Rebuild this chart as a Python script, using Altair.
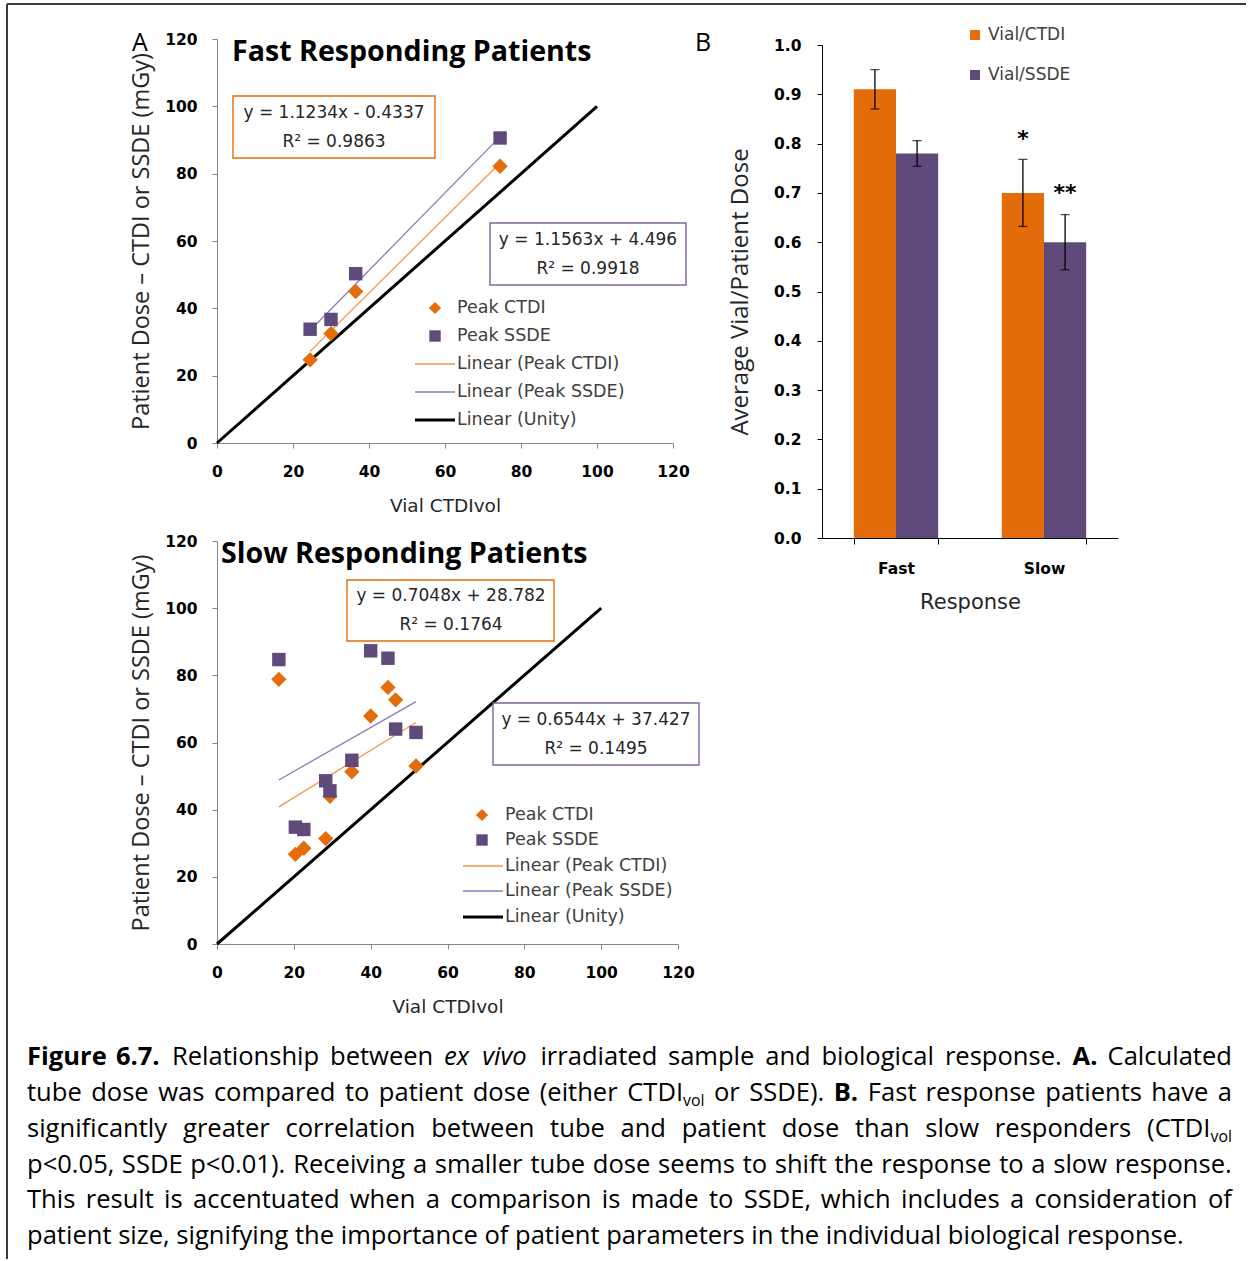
import altair as alt
import pandas as pd

# ---------------- values ----------------
fast_vial = [24.5, 30.0, 36.5, 74.5]
fast_ctdi = [24.7, 32.5, 45.0, 82.2]
fast_ssde = [33.8, 36.7, 50.3, 90.6]

slow_vial = [16.1, 20.4, 22.6, 28.3, 29.4, 35.1, 40.0, 44.5, 46.5, 51.8]
slow_ctdi = [78.8, 26.7, 28.5, 31.4, 44.0, 51.3, 67.9, 76.4, 72.7, 53.0]
slow_ssde = [84.7, 34.8, 34.1, 48.6, 45.6, 54.7, 87.3, 85.1, 64.0, 63.0]

unity_vial = [0, 100]
unity_dose = [0, 100]
dose_ticks = [0, 20, 40, 60, 80, 100, 120]

bar_response = ["Fast", "Fast", "Slow", "Slow"]
bar_ratio = ["Vial/CTDI", "Vial/SSDE", "Vial/CTDI", "Vial/SSDE"]
bar_mean = [0.91, 0.78, 0.70, 0.60]
bar_err = [0.040, 0.026, 0.068, 0.056]
star_response = ["Slow", "Slow"]
star_ratio = ["Vial/CTDI", "Vial/SSDE"]
star_text = ["*", "**"]
star_level = [0.81, 0.70]
ratio_ticks = [0.0, 0.1, 0.2, 0.3, 0.4, 0.5, 0.6, 0.7, 0.8, 0.9, 1.0]

fast_ctdi_eq = ["y = 1.1234x - 0.4337", "R² = 0.9863"]
fast_ssde_eq = ["y = 1.1563x + 4.496", "R² = 0.9918"]
slow_ctdi_eq = ["y = 0.7048x + 28.782", "R² = 0.1764"]
slow_ssde_eq = ["y = 0.6544x + 37.427", "R² = 0.1495"]

legend_labels = ["Peak CTDI", "Peak SSDE", "Linear (Peak CTDI)", "Linear (Peak SSDE)", "Linear (Unity)"]
bar_legend = ["Vial/CTDI", "Vial/SSDE"]

caption_justified = [
    "**Figure **6.7. Relationship between __ex __vivo irradiated sample and biological response. **A. Calculated",
    "tube dose was compared to patient dose (either CTDI~vol or SSDE). **B. Fast response patients have a",
    "significantly greater correlation between tube and patient dose than slow responders (CTDI~vol",
    "p<0.05, SSDE p<0.01). Receiving a smaller tube dose seems to shift the response to a slow response.",
    "This result is accentuated when a comparison is made to SSDE, which includes a consideration of",
]
caption_last = "patient size, signifying the importance of patient parameters in the individual biological response."

# ---------------- styles ----------------
ORANGE = "#E46C0A"
PURPLE = "#604A7B"
ORANGE_LINE = "#F79646"
PURPLE_LINE = "#8C7BB5"
TXT = "#262626"
ONE = pd.DataFrame({"k": [0]})


def txt(s, x, y, size, font="DejaVu Sans", weight="normal", align="left",
        color=TXT, baseline="middle"):
    return alt.Chart(ONE).mark_text(
        align=align, baseline=baseline, fontSize=size, font=font,
        fontWeight=weight, color=color
    ).encode(x=alt.value(x), y=alt.value(y), text=alt.value(s))


def rule(x0, x1, y0, y1, color, width):
    enc = dict(x=alt.value(x0), y=alt.value(y0))
    if x1 != x0:
        enc["x2"] = alt.value(x1)
    if y1 != y0:
        enc["y2"] = alt.value(y1)
    return alt.Chart(ONE).mark_rule(color=color, strokeWidth=width).encode(**enc)


def sym(shape, color, size, x, y):
    return alt.Chart(ONE).mark_point(shape=shape, filled=True, size=size,
                                     color=color, opacity=1).encode(
        x=alt.value(x), y=alt.value(y))


def eq_box(x0, x1, y0, y1, color, lines, cx, ys):
    items = [alt.Chart(ONE).mark_rect(fillOpacity=0, stroke=color, strokeWidth=1.4).encode(
        x=alt.value(x0), x2=alt.value(x1), y=alt.value(y0), y2=alt.value(y1))]
    for s, y in zip(lines, ys):
        items.append(txt(s, cx, y, 17, align="center"))
    return items


def legend(x_sym, xl0, xl1, x_txt, ys):
    items = [
        sym("diamond", ORANGE, 150, x_sym, ys[0]),
        sym("square", PURPLE, 130, x_sym, ys[1]),
        rule(xl0, xl1, ys[2], ys[2], ORANGE_LINE, 1.3),
        rule(xl0, xl1, ys[3], ys[3], PURPLE_LINE, 1.3),
        rule(xl0, xl1, ys[4], ys[4], "black", 3),
    ]
    for lab, y in zip(legend_labels, ys):
        items.append(txt(lab, x_txt, y, 17.5, color="#404040"))
    return items


AX = dict(grid=False, tickSize=5, labelFont="DejaVu Sans", labelFontWeight="bold",
          labelFontSize=15.5, labelColor="black", labelFlush=False, labelOverlap=False,
          titleColor=TXT, titleFontWeight="normal")


def scatter_layers(vial, ctdi, ssde):
    n = len(vial)
    df = pd.DataFrame({"vial": vial + vial, "dose": ctdi + ssde,
                       "series": ["CTDI"] * n + ["SSDE"] * n})
    X = alt.X("vial:Q", scale=alt.Scale(domain=[0, 120], nice=False),
              axis=alt.Axis(values=dose_ticks, title="Vial CTDIvol", labelPadding=16,
                            titlePadding=17, titleFont="DejaVu Sans", titleFontSize=18.5,
                            domainColor="#868686", tickColor="#868686", **AX))
    Y = alt.Y("dose:Q", scale=alt.Scale(domain=[0, 120], nice=False),
              axis=alt.Axis(values=dose_ticks, title="Patient Dose – CTDI or SSDE (mGy)",
                            labelPadding=15, titlePadding=11, titleFont="Open Sans",
                            titleFontSize=23.5, domainColor="#868686",
                            tickColor="#868686", **AX))
    unity = alt.Chart(pd.DataFrame({"vial": unity_vial, "dose": unity_dose})).mark_line(
        color="black", strokeWidth=3).encode(x=X, y=Y)
    layers = [unity]
    for s, col in [("CTDI", ORANGE_LINE), ("SSDE", PURPLE_LINE)]:
        layers.append(alt.Chart(df).transform_filter(alt.datum.series == s)
                      .transform_regression("vial", "dose")
                      .mark_line(color=col, strokeWidth=1.3).encode(x=X, y=Y))
    layers.append(alt.Chart(df).transform_filter(alt.datum.series == "CTDI")
                  .mark_point(shape="diamond", filled=True, size=235, color=ORANGE, opacity=1)
                  .encode(x=X, y=Y))
    layers.append(alt.Chart(df).transform_filter(alt.datum.series == "SSDE")
                  .mark_point(shape="square", filled=True, size=180, color=PURPLE, opacity=1)
                  .encode(x=X, y=Y))
    return layers


# ---------------- panel A (fast) ----------------
A_items = scatter_layers(fast_vial, fast_ctdi, fast_ssde)
A_items += [txt("Fast Responding Patients", 15, 13, 28.6, font="Open Sans", weight="bold", color="black"),
            txt("A", -77, 4, 25, font="Open Sans", align="center", color="black")]
A_items += eq_box(16, 218, 57, 119, ORANGE, fast_ctdi_eq, 117, [74, 103])
A_items += eq_box(273, 469, 184, 246, "#8064A2", fast_ssde_eq, 371, [201, 230])
A_items += legend(218, 198, 238, 240, [269, 297, 325, 353, 381])
# figure frame (left and top edges)
A_items += [rule(-210, -210, -35, 1220, "#3a3a3a", 2), rule(-210, 1029, -35, -35, "#3a3a3a", 2)]
panelA = alt.layer(*A_items).properties(width=456, height=404)

# ---------------- panel B (bars) ----------------
bar_df = pd.DataFrame({"response": bar_response, "ratio": bar_ratio,
                       "mean": bar_mean, "err": bar_err})
star_df = pd.DataFrame({"response": star_response, "ratio": star_ratio,
                        "level": star_level, "label": star_text})
XB = alt.X("response:N", scale=alt.Scale(paddingInner=0.43, paddingOuter=0.215),
           axis=alt.Axis(title="Response", labelAngle=0, tickBand="extent", grid=False,
                         domainColor="black", tickColor="black", tickSize=6,
                         labelFont="DejaVu Sans", labelFontWeight="bold", labelFontSize=15.5,
                         labelColor="black", labelPadding=17, titleFont="DejaVu Sans",
                         titleFontSize=21, titleFontWeight="normal", titleColor=TXT,
                         titlePadding=15))
XO = alt.XOffset("ratio:N", scale=alt.Scale(domain=bar_legend))
yscale = alt.Scale(domain=[0, 1], range=[499, 6], nice=False)
yaxis = alt.Axis(values=ratio_ticks, format=".1f", title="Average Vial/Patient Dose", grid=False,
                 domainColor="black", tickColor="black", tickSize=5, labelFont="DejaVu Sans",
                 labelFontWeight="bold", labelFontSize=15.5, labelColor="black", labelPadding=16,
                 titleFont="Open Sans", titleFontSize=24, titleFontWeight="normal",
                 titleColor=TXT, titlePadding=21)
bars = alt.Chart(bar_df).mark_bar().encode(
    x=XB, xOffset=XO, y=alt.Y("mean:Q", scale=yscale, axis=yaxis),
    color=alt.Color("ratio:N", scale=alt.Scale(domain=bar_legend, range=[ORANGE, PURPLE]), legend=None))
err_base = alt.Chart(bar_df).transform_calculate(lo="datum.mean - datum.err", hi="datum.mean + datum.err")
err_rule = err_base.mark_rule(color="black", strokeWidth=1.3).encode(
    x=XB, xOffset=XO, y=alt.Y("lo:Q", scale=yscale, axis=yaxis), y2="hi:Q")
cap_lo = err_base.mark_tick(color="black", thickness=1.3, size=9).encode(
    x=XB, xOffset=XO, y=alt.Y("lo:Q", scale=yscale, axis=yaxis))
cap_hi = err_base.mark_tick(color="black", thickness=1.3, size=9).encode(
    x=XB, xOffset=XO, y=alt.Y("hi:Q", scale=yscale, axis=yaxis))
stars = alt.Chart(star_df).mark_text(font="DejaVu Sans", fontWeight="bold", fontSize=22,
                                     baseline="middle", color="black").encode(
    x=XB, xOffset=XO, y=alt.Y("level:Q", scale=yscale, axis=yaxis), text="label:N")
B_items = [bars, err_rule, cap_lo, cap_hi, stars,
           txt("B", -119, 4, 25, font="Open Sans", align="center", color="black"),
           sym("square", ORANGE, 100, 153, -4), sym("square", PURPLE, 100, 153, 36),
           txt(bar_legend[0], 166, -4, 17, color="#404040"),
           txt(bar_legend[1], 166, 36, 17, color="#404040")]
panelB = alt.layer(*B_items).properties(width=296, height=499)

# ---------------- panel C (slow) ----------------
C_items = scatter_layers(slow_vial, slow_ctdi, slow_ssde)
C_items += [txt("Slow Responding Patients", 4, 13, 28.6, font="Open Sans", weight="bold", color="black")]
C_items += eq_box(130, 337, 39, 100, ORANGE, slow_ctdi_eq, 234, [55, 84])
C_items += eq_box(276, 482, 162, 224, "#8064A2", slow_ssde_eq, 379, [179, 208])
C_items += legend(265, 246, 286, 288, [274, 299, 325, 350, 376])

# ---------------- caption (justified, word by word) ----------------
OS_W = {
    " ": .26, "a": .556, "b": .613, "c": .476, "d": .613, "e": .561, "f": .339, "g": .548,
    "h": .614, "i": .253, "j": .253, "k": .525, "l": .253, "m": .930, "n": .614, "o": .604,
    "p": .613, "q": .613, "r": .408, "s": .477, "t": .353, "u": .614, "v": .501, "w": .778,
    "x": .524, "y": .502, "z": .454, "A": .633, "B": .648, "C": .631, "D": .729, "E": .546,
    "F": .504, "G": .728, "H": .738, "I": .279, "J": .267, "K": .614, "L": .519, "M": .903,
    "N": .754, "O": .779, "P": .602, "Q": .779, "R": .618, "S": .549, "T": .553, "U": .728,
    "V": .595, "W": .926, "X": .577, "Y": .556, "Z": .561, ".": .266, ",": .244, "(": .295,
    ")": .295, "<": .572, "-": .322, "/": .367,
}


def w_est(s, bold=False):
    w = sum(OS_W.get(c, .572) for c in s)
    return w * (1.06 if bold else 1.0)


CAP_L, CAP_R = -190, 1015
CAP_S = 1158 / w_est(caption_last)
CAP_SUB = 0.62 * CAP_S
cap_base = [524, 560, 596, 632, 667, 703]


def parse(word):
    if word.startswith("**"):
        return [(word[2:], "b")]
    if word.startswith("__"):
        return [(word[2:], "i")]
    if "~" in word:
        a, b = word.split("~")
        return [(a, "n"), (b, "sub")]
    return [(word, "n")]


rows = []
for li, line in enumerate(caption_justified):
    base = cap_base[li]
    words = [parse(w) for w in line.split(" ")]
    widths = [sum(w_est(t, st == "b") * (CAP_SUB if st == "sub" else CAP_S) for t, st in segs)
              for segs in words]
    gap = (CAP_R - CAP_L - sum(widths)) / (len(words) - 1)
    x = CAP_L
    for segs, wd in zip(words, widths):
        cx = x
        k = 0
        while k < len(segs):
            t, st = segs[k]
            if k + 1 < len(segs) and segs[k + 1][1] == "sub":
                j = cx + w_est(t) * CAP_S
                rows.append((j, base, t, "nr"))
                rows.append((j, base + 5, segs[k + 1][0], "sub"))
                cx = j + w_est(segs[k + 1][0]) * CAP_SUB
                k += 2
            else:
                rows.append((cx, base, t, st))
                cx += w_est(t, st == "b") * CAP_S
                k += 1
        x += wd + gap
rows.append((CAP_L, cap_base[5], caption_last, "n"))
cap_df = pd.DataFrame(rows, columns=["px", "py", "t", "sty"])

cap_styles = {
    "n": dict(align="left", fontWeight="normal", fontStyle="normal", fontSize=CAP_S),
    "b": dict(align="left", fontWeight="bold", fontStyle="normal", fontSize=CAP_S),
    "i": dict(align="left", fontWeight="normal", fontStyle="italic", fontSize=CAP_S),
    "nr": dict(align="right", fontWeight="normal", fontStyle="normal", fontSize=CAP_S),
    "sub": dict(align="left", fontWeight="normal", fontStyle="normal", fontSize=CAP_SUB),
}
for sty, kw in cap_styles.items():
    C_items.append(alt.Chart(cap_df).transform_filter(alt.datum.sty == sty).mark_text(
        font="Open Sans", baseline="alphabetic", color="black", **kw).encode(
        x=alt.X("px:Q", scale=None, axis=None), y=alt.Y("py:Q", scale=None, axis=None),
        text="t:N"))

panelC = alt.layer(*C_items).properties(width=461, height=403)

chart = alt.concat(panelA, panelB, panelC, columns=2,
                   spacing={"row": 3, "column": 144}, bounds="flush").properties(
    padding={"left": 6, "top": 3, "right": 0, "bottom": 0}
).configure_view(stroke=None)

chart.save("out.html", embed_options={"renderer": "svg", "actions": False})
